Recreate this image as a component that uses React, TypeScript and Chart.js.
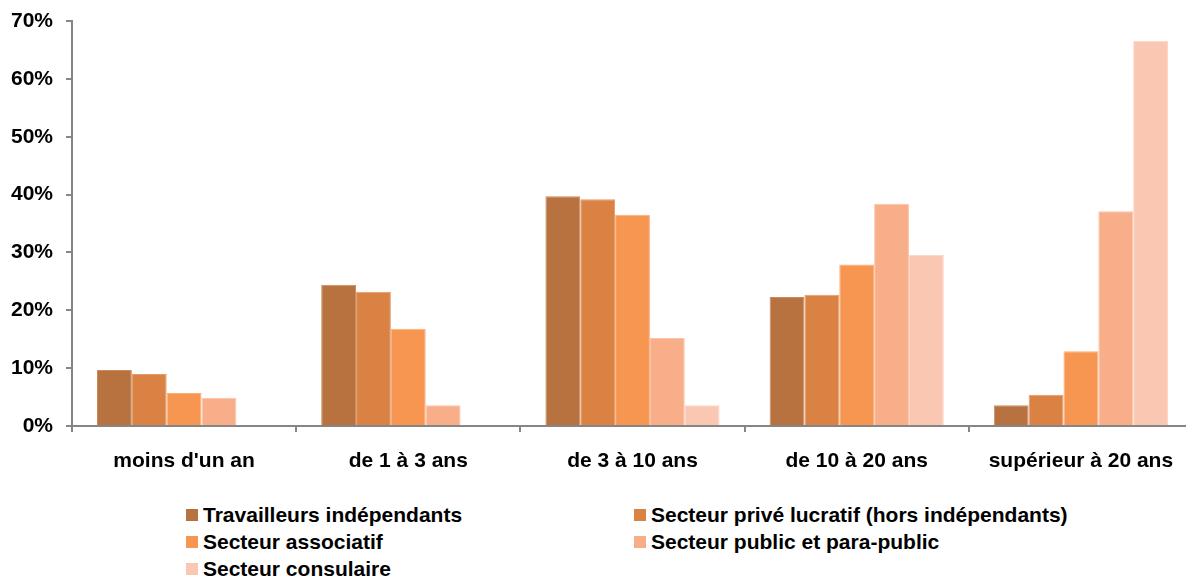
import React, { useEffect, useRef } from "react";
import { Chart, registerables } from "chart.js";

Chart.register(...registerables);

const categories = ["moins d'un an", "de 1 à 3 ans", "de 3 à 10 ans", "de 10 à 20 ans", "supérieur à 20 ans"];
const seriesNames = [
  "Travailleurs indépendants",
  "Secteur privé lucratif (hors indépendants)",
  "Secteur associatif",
  "Secteur public et para-public",
  "Secteur consulaire",
];
const independants = [9.7, 24.4, 39.7, 22.3, 3.6];
const priveLucratif = [9.0, 23.2, 39.2, 22.7, 5.4];
const associatif = [5.7, 16.8, 36.5, 27.9, 12.9];
const publicParaPublic = [4.9, 3.6, 15.2, 38.4, 37.1];
const consulaire = [null, null, 3.6, 29.6, 66.6];
const seriesValues = [independants, priveLucratif, associatif, publicParaPublic, consulaire];
const colors = ["#B87240", "#DA8144", "#F79650", "#F9AE8A", "#FAC8B2"];
const borderColors = ["#C98A5E", "#E49B68", "#FAAE78", "#FBC2A6", "#FCD6C6"];
const yMax = 70;
const yStep = 10;

const FONT = "'Liberation Sans', Arial, sans-serif";

export default function App() {
  const canvasRef = useRef<HTMLCanvasElement | null>(null);

  useEffect(() => {
    if (!canvasRef.current) return;
    const chart = new Chart(canvasRef.current, {
      type: "bar",
      data: {
        labels: categories,
        datasets: seriesValues.map((vals, i) => ({
          label: seriesNames[i],
          data: vals,
          backgroundColor: colors[i],
          borderColor: borderColors[i],
          borderWidth: 1,
          categoryPercentage: 0.777,
          barPercentage: 1,
        })),
      },
      options: {
        animation: false,
        responsive: false,
        maintainAspectRatio: false,
        layout: { padding: { top: 21, right: 0, left: 0, bottom: 0 } },
        plugins: {
          legend: { display: false },
          tooltip: { enabled: false },
        },
        scales: {
          x: {
            grid: {
              display: true,
              offset: true,
              drawOnChartArea: false,
              drawTicks: true,
              tickLength: 6,
              color: "#868686",
              lineWidth: 2,
            },
            border: { display: true, color: "#868686", width: 2 },
            ticks: {
              color: "#000",
              padding: 17,
              maxRotation: 0,
              font: { family: FONT, size: 21, weight: "bold" },
            },
            afterFit: (scale: any) => {
              scale.height = 54;
            },
          },
          y: {
            min: 0,
            max: yMax,
            grid: {
              display: true,
              drawOnChartArea: false,
              drawTicks: true,
              tickLength: 6,
              color: "#868686",
              lineWidth: 2,
            },
            border: { display: true, color: "#868686", width: 2 },
            ticks: {
              stepSize: yStep,
              color: "#000",
              padding: 13,
              font: { family: FONT, size: 21, weight: "bold" },
              callback: (v: any) => `${v}%`,
            },
            afterFit: (scale: any) => {
              scale.width = 72;
              scale.paddingTop = 0;
              scale.paddingBottom = 0;
            },
          },
        },
      },
    });
    return () => chart.destroy();
  }, []);

  const legendPos = [
    { left: 186, top: 509 },
    { left: 634, top: 509 },
    { left: 186, top: 536 },
    { left: 634, top: 536 },
    { left: 186, top: 563 },
  ];

  return (
    <div
      style={{
        position: "absolute",
        left: 0,
        top: 0,
        width: 1186,
        height: 577,
        overflow: "hidden",
        background: "#fff",
      }}
    >
      <canvas
        ref={canvasRef}
        width={1193}
        height={480}
        style={{ position: "absolute", left: 0, top: 0, width: 1193, height: 480 }}
      />
      {seriesNames.map((name, i) => (
        <div
          key={name}
          style={{
            position: "absolute",
            left: legendPos[i].left,
            top: legendPos[i].top,
            display: "flex",
            alignItems: "center",
            height: 12,
            whiteSpace: "nowrap",
          }}
        >
          <span
            style={{
              display: "inline-block",
              width: 12,
              height: 12,
              background: colors[i],
              marginRight: 5,
            }}
          />
          <span
            style={{
              fontFamily: FONT,
              fontWeight: "bold",
              fontSize: 21,
              color: "#000",
              lineHeight: "12px",
            }}
          >
            {name}
          </span>
        </div>
      ))}
    </div>
  );
}
